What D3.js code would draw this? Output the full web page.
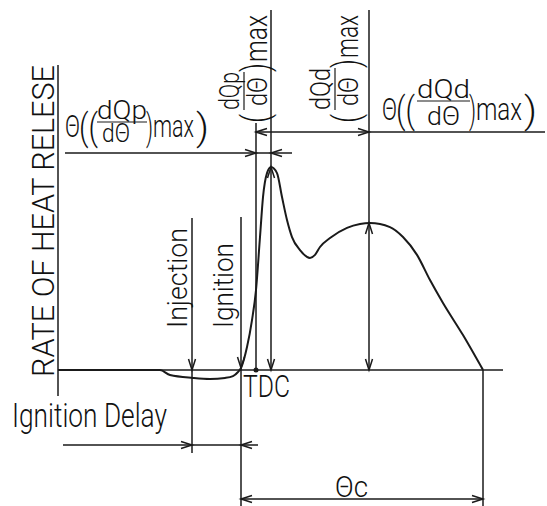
<!DOCTYPE html>
<html>
<head>
<meta charset="UTF-8">
<title>Rate of heat release</title>
<script src="https://d3js.org/d3.v7.min.js"></script>
<style>
body { margin: 0; background: #fff; }
text { font-family: Roboto, "DejaVu Sans Condensed", "Liberation Sans", sans-serif; font-weight: 300; fill: #111; }
</style>
</head>
<body>
<script>

/* Heat release curve: crank angle in degrees (TDC = 0), rate in % of the premixed peak */
var crankAngle = [-49.5, -24, -21.5, -15.75, -11.5, -7.75, -5.75, -4.5, -3.75, -2.25, -1, 0, 1, 1.75, 2.75, 3.75,
	5.25, 6.5, 7.75, 9, 11, 13.5, 14.75, 16, 18.5, 22.75, 26, 28.5, 33.5, 36.75, 40.25, 43.5, 46.75, 51.75, 56.75]
var heatRate = [0, 0, -2.5, -3.9, -4.4, -3.9, -3, -1, 1, 11.3, 24.6, 39.4, 65.5, 85.2, 97, 100,
	97, 85.2, 73.9, 65.5, 59.1, 55.2, 56.7, 60.6, 65, 70, 71.9, 72.4, 70.4, 65.5, 56.7, 44.3, 33, 17.2, 0]

/* Event angles (deg) and peak heights */
var injectionDeg = -16
var ignitionDeg = -3.75
var tdcDeg = 0
var peakDeg = 3.75		// (dQp/dθ)max
var humpDeg = 28.25		// (dQd/dθ)max
var endDeg = 56.75		// end of combustion
var peakRate = 100
var humpRate = 72.4
var axisStart = -49.5, axisEnd = 61.75

var W = 547, H = 506
var x = d3.scaleLinear().domain([-50, 62]).range([56, 504])
var y = d3.scaleLinear().domain([0, 100]).range([370, 167])

var svg = d3.select('body').append('svg')
	.attr('width', W)
	.attr('height', H)

var ink = '#1a1a1a'

function line(x1, y1, x2, y2, w) {
	svg.append('line')
		.attr('x1', x1).attr('y1', y1)
		.attr('x2', x2).attr('y2', y2)
		.style('stroke', ink)
		.style('stroke-width', w || 1.5)
}

/* open V arrowhead, tip at (px,py), pointing along (dx,dy) */
function arrow(px, py, dx, dy) {
	var L = 11, h = 3.5
	var bx = px - L * dx, by = py - L * dy
	svg.append('path')
		.attr('d', 'M' + (bx - h * dy) + ',' + (by + h * dx) + 'L' + px + ',' + py + 'L' + (bx + h * dy) + ',' + (by - h * dx))
		.style('fill', 'none')
		.style('stroke', ink)
		.style('stroke-width', 1.5)
}

function label(g, tx, ty, str, size, len) {
	var t = g.append('text')
		.attr('x', tx)
		.attr('y', ty)
		.attr('font-size', size)
		.text(str)
	if (len) t.attr('textLength', len).attr('lengthAdjust', 'spacingAndGlyphs')
	return t
}

/* axes */
var base = y(0)
line(x(axisStart), 65, x(axisStart), 396)
line(x(axisStart), base, x(axisEnd), base)

/* curve */
var pts = crankAngle.map(function(d, i) { return [d, heatRate[i]] })
svg.append('path')
	.datum(pts)
	.attr('d', d3.line()
		.x(function(d) { return x(d[0]) })
		.y(function(d) { return y(d[1]) })
		.curve(d3.curveMonotoneX))
	.style('fill', 'none')
	.style('stroke', ink)
	.style('stroke-width', 2)

/* injection & ignition markers */
line(x(injectionDeg), 218, x(injectionDeg), 453)
arrow(x(injectionDeg), base, 0, 1)
line(x(ignitionDeg), 217, x(ignitionDeg), 506)
arrow(x(ignitionDeg), base - 2, 0, 1)

/* TDC */
line(x(tdcDeg), 123, x(tdcDeg), base)
svg.append('circle').attr('cx', x(tdcDeg)).attr('cy', base).attr('r', 2.5).style('fill', ink)

/* peak height lines */
line(x(peakDeg), 10, x(peakDeg), base)
arrow(x(peakDeg), y(peakRate), 0, -1)
arrow(x(peakDeg), base, 0, 1)
line(x(humpDeg), 10, x(humpDeg), base)
arrow(x(humpDeg), y(humpRate), 0, -1)
arrow(x(humpDeg), base, 0, 1)

/* end of combustion */
line(x(endDeg), base, x(endDeg), 506)

/* angle dimensions */
line(65, 153, 292, 153)
arrow(x(tdcDeg), 153, 1, 0)
arrow(x(peakDeg), 153, -1, 0)
line(x(tdcDeg), 132, 545, 132)
arrow(x(tdcDeg), 132, -1, 0)
arrow(x(humpDeg), 132, 1, 0)
line(63, 445, 258, 445)
arrow(x(injectionDeg), 445, 1, 0)
arrow(x(ignitionDeg), 445, -1, 0)
line(x(ignitionDeg), 499, x(endDeg), 499)
arrow(x(ignitionDeg), 499, -1, 0)
arrow(x(endDeg), 499, 1, 0)

/* plain labels */
var g0 = svg.append('g')
label(svg.append('g').attr('transform', 'translate(54,377) rotate(-90)'), 0, 0, 'RATE OF HEAT RELESE', 31, 312)
label(svg.append('g').attr('transform', 'translate(187,328) rotate(-90)'), 0, 0, 'Injection', 28, 100)
label(svg.append('g').attr('transform', 'translate(233,328) rotate(-90)'), 0, 0, 'Ignition', 28, 85)
label(g0, 243, 397, 'TDC', 31, 47)
label(g0, 12, 427, 'Ignition Delay', 33, 155)
label(g0, 335, 497, 'Θc', 29, 33)

/* horizontal formula θ((dQ/dθ)max) */
function hFormula(o) {
	var g = svg.append('g')
	label(g, o.x, o.yb, 'Θ', 31, 15)
	label(g, o.x + 14, o.yb + 3, '((', 36, 19)
	label(g, o.nx, o.yb - o.nb, o.num, 25, o.nw)
	g.append('line').attr('x1', o.nx).attr('x2', o.nx + o.nw)
		.attr('y1', o.yb - o.bar).attr('y2', o.yb - o.bar)
		.style('stroke', ink).style('stroke-width', 1.2)
	label(g, o.dx, o.yb + 5, 'dΘ', 25, o.dw)
	label(g, o.nx + o.nw - 1, o.yb + 3, ')', 36, 7)
	label(g, o.nx + o.nw + 6, o.yb, 'max', 31, o.mw)
	label(g, o.nx + o.nw + 8 + o.mw, o.yb + 3, ')', 36, 13)
}
hFormula({x: 65, yb: 137, num: 'dQp', nx: 97, nw: 50, nb: 18, bar: 15, dx: 102, dw: 28, mw: 41})
hFormula({x: 382, yb: 120, num: 'dQd', nx: 417, nw: 53, nb: 22, bar: 19, dx: 427, dw: 33, mw: 46})

/* vertical formula (dQ/dθ)max, read bottom to top */
function vFormula(o) {
	var g = svg.append('g').attr('transform', 'translate(0,123) rotate(-90)')
	label(g, 0, o.vb + 1, '(', 36, 9)
	label(g, 13, o.vb - 28, o.num, 27, o.nw)
	g.append('line').attr('x1', 13).attr('x2', 13 + o.nw)
		.attr('y1', o.vb - 23).attr('y2', o.vb - 23)
		.style('stroke', ink).style('stroke-width', 1.2)
	label(g, 17, o.vb, 'dΘ', 27, 29)
	label(g, 13 + o.nw, o.vb + 1, ')', 36, 9)
	label(g, 23 + o.nw, o.vb, 'max', 31, 108 - 23 - o.nw)
}
vFormula({vb: 267, num: 'dQp', nw: 38})
vFormula({vb: 358, num: 'dQd', nw: 42})

</script>
</body>
</html>
